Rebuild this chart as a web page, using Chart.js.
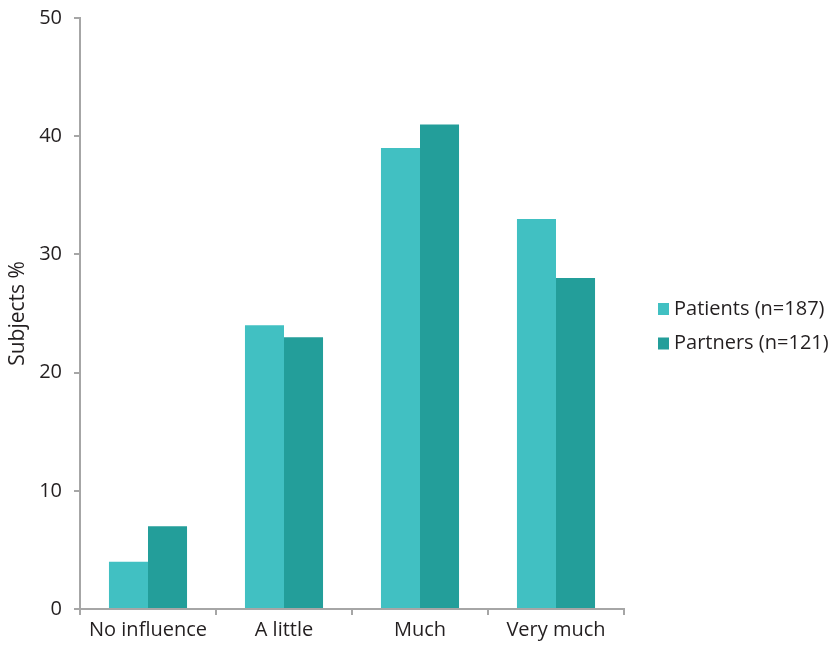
<!DOCTYPE html>
<html>
<head>
<meta charset="utf-8">
<script src="https://cdn.jsdelivr.net/npm/chart.js@4/dist/chart.umd.min.js"></script>
<style>
html,body{margin:0;padding:0;background:#fff;}
#wrap{width:831px;height:645px;position:relative;}
</style>
</head>
<body>
<div id="wrap"><canvas id="c" width="831" height="645"></canvas></div>
<script>
const categories = ["No influence", "A little", "Much", "Very much"];
const patients = [4, 24, 39, 33];
const partners = [7, 23, 41, 28];
const seriesLabels = ["Patients (n=187)", "Partners (n=121)"];
const seriesColors = ["#41C0C2", "#239E9A"];
const yTicks = [0, 10, 20, 30, 40, 50];

const FONT = "'Open Sans', sans-serif";
const TEXT = "#231F20";
const AXIS = "#A6A6A6";

const legendPlugin = {
  id: 'sideLegend',
  afterDraw(chart) {
    const ctx = chart.ctx;
    ctx.save();
    ctx.font = "20px " + FONT;
    ctx.textBaseline = "middle";
    ctx.textAlign = "left";
    const x0 = chart.chartArea.right + 34;
    const yc = (chart.chartArea.top + chart.chartArea.bottom) / 2;
    const rows = [yc - 4.5, yc + 30];
    chart.data.datasets.forEach((ds, i) => {
      ctx.fillStyle = ds.backgroundColor;
      ctx.fillRect(x0, rows[i] - 6, 11, 12);
      ctx.fillStyle = TEXT;
      ctx.fillText(ds.label, x0 + 16, rows[i]);
    });
    ctx.restore();
  }
};

new Chart(document.getElementById('c'), {
  type: 'bar',
  data: {
    labels: categories,
    datasets: [
      { label: seriesLabels[0], data: patients, backgroundColor: seriesColors[0] },
      { label: seriesLabels[1], data: partners, backgroundColor: seriesColors[1] }
    ]
  },
  options: {
    responsive: false,
    animation: false,
    devicePixelRatio: 1,
    categoryPercentage: 0.574,
    barPercentage: 1.0,
    layout: { padding: { left: 0, right: 207, top: 18, bottom: 0 } },
    plugins: { legend: { display: false }, tooltip: { enabled: false } },
    scales: {
      x: {
        grid: { display: true, drawOnChartArea: false, drawTicks: true, tickLength: 6, color: AXIS, lineWidth: 2, offset: true },
        border: { display: true, color: AXIS, width: 2 },
        ticks: { color: TEXT, font: { family: FONT, size: 20 }, padding: 3, maxRotation: 0 },
        afterFit(s) { s.height = 36; s.paddingLeft = 0; s.paddingRight = 0; }
      },
      y: {
        min: 0, max: 50,
        afterBuildTicks(s) { s.ticks = yTicks.map(v => ({ value: v })); },
        grid: { display: true, drawOnChartArea: false, drawTicks: true, tickLength: 6, color: AXIS, lineWidth: 2 },
        border: { display: true, color: AXIS, width: 2 },
        ticks: { color: TEXT, font: { family: FONT, size: 20 }, padding: 12 },
        title: { display: true, text: "Subjects %", color: TEXT, font: { family: FONT, size: 21 }, padding: { top: 5, bottom: 0 } },
        afterFit(s) { s.width = 80; s.paddingTop = 0; s.paddingBottom = 0; }
      }
    }
  },
  plugins: [legendPlugin]
});
</script>
</body>
</html>
